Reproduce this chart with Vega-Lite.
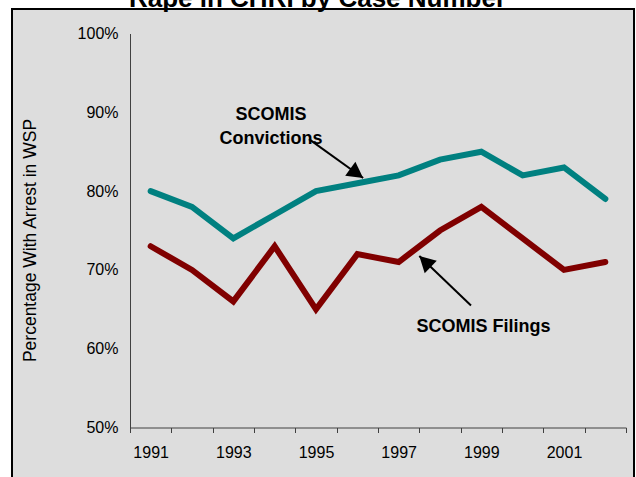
{
  "$schema": "https://vega.github.io/schema/vega-lite/v6.json",
  "width": 622,
  "height": 470,
  "autosize": {"type": "none"},
  "padding": {"left": 12, "top": 9, "right": 2, "bottom": 0},
  "background": "white",
  "title": {
    "text": "Rape in CHRI by Case Number",
    "font": "Liberation Sans",
    "fontSize": 26,
    "fontWeight": "bold",
    "color": "black",
    "anchor": "middle",
    "frame": "group",
    "baseline": "alphabetic",
    "offset": 0,
    "dy": 24,
    "dx": -5.5
  },
  "config": {
    "font": "Liberation Sans",
    "view": {"fill": "#dddddd", "stroke": "black", "strokeWidth": 2}
  },
  "datasets": {
    "lines": [
      {"year": 1991, "series": "SCOMIS Convictions", "value": 80},
      {"year": 1992, "series": "SCOMIS Convictions", "value": 78},
      {"year": 1993, "series": "SCOMIS Convictions", "value": 74},
      {"year": 1994, "series": "SCOMIS Convictions", "value": 77},
      {"year": 1995, "series": "SCOMIS Convictions", "value": 80},
      {"year": 1996, "series": "SCOMIS Convictions", "value": 81},
      {"year": 1997, "series": "SCOMIS Convictions", "value": 82},
      {"year": 1998, "series": "SCOMIS Convictions", "value": 84},
      {"year": 1999, "series": "SCOMIS Convictions", "value": 85},
      {"year": 2000, "series": "SCOMIS Convictions", "value": 82},
      {"year": 2001, "series": "SCOMIS Convictions", "value": 83},
      {"year": 2002, "series": "SCOMIS Convictions", "value": 79},
      {"year": 1991, "series": "SCOMIS Filings", "value": 73},
      {"year": 1992, "series": "SCOMIS Filings", "value": 70},
      {"year": 1993, "series": "SCOMIS Filings", "value": 66},
      {"year": 1994, "series": "SCOMIS Filings", "value": 73},
      {"year": 1995, "series": "SCOMIS Filings", "value": 65},
      {"year": 1996, "series": "SCOMIS Filings", "value": 72},
      {"year": 1997, "series": "SCOMIS Filings", "value": 71},
      {"year": 1998, "series": "SCOMIS Filings", "value": 75},
      {"year": 1999, "series": "SCOMIS Filings", "value": 78},
      {"year": 2000, "series": "SCOMIS Filings", "value": 74},
      {"year": 2001, "series": "SCOMIS Filings", "value": 70},
      {"year": 2002, "series": "SCOMIS Filings", "value": 71}
    ],
    "arrows": [
      {"name": "conv", "x": 1994.83, "y": 86.6, "x2": 1996.14, "y2": 81.66},
      {"name": "fil", "x": 1998.75, "y": 65.48, "x2": 1997.5, "y2": 71.76}
    ],
    "labels": [
      {"label": "SCOMIS\nConvictions", "x": 1993.91, "y": 89.7},
      {"label": "SCOMIS Filings", "x": 1999.05, "y": 62.72}
    ]
  },
  "layer": [
    {
      "data": {"name": "lines"},
      "mark": {"type": "line", "strokeWidth": 6, "strokeCap": "round"},
      "encoding": {
        "x": {
          "field": "year",
          "type": "quantitative",
          "scale": {"domain": [1990.5, 2002.5], "range": [118, 614], "nice": false, "zero": false},
          "axis": {
            "title": null,
            "values": [1990.5, 1991.5, 1992.5, 1993.5, 1994.5, 1995.5, 1996.5, 1997.5, 1998.5, 1999.5, 2000.5, 2001.5, 2002.5],
            "offset": -51.5,
            "grid": false,
            "domainColor": "#404040",
            "domainWidth": 1,
            "tickColor": "#404040",
            "tickSize": 5,
            "tickWidth": 1,
            "labelFont": "Liberation Sans",
            "labelFontSize": 16,
            "labelColor": "black",
            "labelOffset": 20.67,
            "labelPadding": 12,
            "labelOverlap": false,
            "labelBound": false,
            "labelFlush": false,
            "labelExpr": "(datum.value % 2 == 0.5 && datum.value < 2002) ? format(datum.value + 0.5, 'd') : ''"
          }
        },
        "y": {
          "field": "value",
          "type": "quantitative",
          "scale": {"domain": [50, 100], "range": [418.5, 24.5], "nice": false, "zero": false},
          "axis": {
            "title": "Percentage With Arrest in WSP",
            "values": [50, 60, 70, 80, 90, 100],
            "offset": -118,
            "grid": false,
            "ticks": false,
            "tickSize": 0,
            "domainColor": "#404040",
            "domainWidth": 1,
            "labelFont": "Liberation Sans",
            "labelFontSize": 16,
            "labelColor": "black",
            "labelPadding": 12,
            "labelBound": false,
            "labelFlush": false,
            "labelExpr": "datum.value + '%'",
            "titleFont": "Liberation Sans",
            "titleFontSize": 17.5,
            "titleFontWeight": "normal",
            "titleColor": "black",
            "titleAngle": -90,
            "titleAlign": "center",
            "titleBaseline": "middle",
            "titleX": -100,
            "titleY": 231
          }
        },
        "color": {
          "field": "series",
          "type": "nominal",
          "scale": {"domain": ["SCOMIS Convictions", "SCOMIS Filings"], "range": ["#008080", "#800000"]},
          "legend": null
        }
      }
    },
    {
      "data": {"name": "arrows"},
      "mark": {"type": "rule", "color": "black", "strokeWidth": 2},
      "encoding": {
        "x": {"field": "x", "type": "quantitative"},
        "y": {"field": "y", "type": "quantitative"},
        "x2": {"field": "x2"},
        "y2": {"field": "y2"}
      }
    },
    {
      "data": {"name": "arrows"},
      "transform": [{"filter": "datum.name == 'conv'"}],
      "mark": {"type": "point", "shape": "M0,0L1.1,2L-1.1,2Z", "size": 250, "filled": true, "color": "black", "opacity": 1, "strokeWidth": 0, "angle": 125.8},
      "encoding": {
        "x": {"field": "x2", "type": "quantitative"},
        "y": {"field": "y2", "type": "quantitative"}
      }
    },
    {
      "data": {"name": "arrows"},
      "transform": [{"filter": "datum.name == 'fil'"}],
      "mark": {"type": "point", "shape": "M0,0L1.1,2L-1.1,2Z", "size": 250, "filled": true, "color": "black", "opacity": 1, "strokeWidth": 0, "angle": 313.9},
      "encoding": {
        "x": {"field": "x2", "type": "quantitative"},
        "y": {"field": "y2", "type": "quantitative"}
      }
    },
    {
      "data": {"name": "labels"},
      "mark": {"type": "text", "font": "Liberation Sans", "fontSize": 18, "fontWeight": "bold", "color": "black", "align": "center", "baseline": "middle", "lineBreak": "\n", "lineHeight": 24},
      "encoding": {
        "x": {"field": "x", "type": "quantitative"},
        "y": {"field": "y", "type": "quantitative"},
        "text": {"field": "label"}
      }
    }
  ]
}
